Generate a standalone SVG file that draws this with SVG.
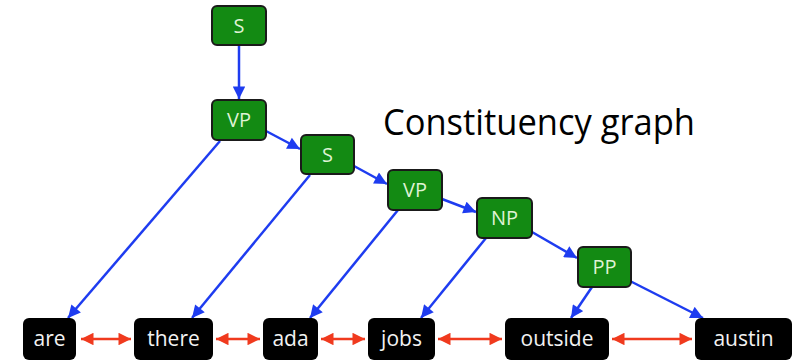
<svg xmlns="http://www.w3.org/2000/svg" width="797" height="362" viewBox="0 0 797 362">
<style>
.g rect{fill:#138a13;stroke:#1a1a1a;stroke-width:2}
.g text{fill:#dff2d4;font-family:"Open Sans","Liberation Sans",sans-serif;font-size:20px;text-anchor:middle}
.w rect{fill:#000}
.w text{fill:#f2f2f2;font-family:"Open Sans","Liberation Sans",sans-serif;font-size:21px;text-anchor:middle}
.b{stroke:#1e3cf0;stroke-width:2.5;fill:none;marker-end:url(#ab)}
.r{stroke:#f03a1e;stroke-width:2.5;fill:none;marker-start:url(#ar);marker-end:url(#ar)}
.title{font-family:"Open Sans","Liberation Sans",sans-serif;font-size:36px;fill:#000}
</style>
<defs>
<marker id="ab" viewBox="0 0 10 10" refX="10" refY="5" markerWidth="5.5" markerHeight="5" orient="auto" markerUnits="strokeWidth">
<path d="M0,0 L10,5 L0,10 z" fill="#1e3cf0"/>
</marker>
<marker id="ar" viewBox="0 0 10 10" refX="10" refY="5" markerWidth="5.5" markerHeight="5" orient="auto-start-reverse" markerUnits="strokeWidth">
<path d="M0,0 L10,5 L0,10 z" fill="#f03a1e"/>
</marker>
</defs>
<g id="connectors">
<line class="b" x1="239" y1="45" x2="239" y2="99"/>
<line class="b" x1="266" y1="131" x2="300" y2="149"/>
<line class="b" x1="354" y1="166" x2="387" y2="184"/>
<line class="b" x1="442" y1="199" x2="476" y2="212"/>
<line class="b" x1="532" y1="232" x2="577" y2="258"/>
<line class="b" x1="220" y1="141" x2="68" y2="318"/>
<line class="b" x1="310" y1="175" x2="192" y2="318"/>
<line class="b" x1="398" y1="210" x2="310" y2="318"/>
<line class="b" x1="486" y1="238" x2="421" y2="318"/>
<line class="b" x1="592" y1="287" x2="571" y2="318"/>
<line class="b" x1="630" y1="281" x2="703" y2="318"/>
<line class="r" x1="81" y1="339" x2="131" y2="339"/>
<line class="r" x1="216" y1="339" x2="260" y2="339"/>
<line class="r" x1="321" y1="339" x2="365" y2="339"/>
<line class="r" x1="438" y1="339" x2="502" y2="339"/>
<line class="r" x1="612" y1="339" x2="692" y2="339"/>
</g>
<g id="S1" class="g"><rect x="212" y="6" width="54" height="39" rx="5"/><text x="239" y="33">S</text></g>
<g id="VP1" class="g"><rect x="212" y="100" width="54" height="40" rx="5"/><text x="239" y="127">VP</text></g>
<g id="S2" class="g"><rect x="301" y="135" width="53" height="39" rx="5"/><text x="327.5" y="162">S</text></g>
<g id="VP2" class="g"><rect x="388" y="170" width="54" height="40" rx="5"/><text x="415" y="197">VP</text></g>
<g id="NP" class="g"><rect x="477" y="198" width="55" height="40" rx="5"/><text x="504.5" y="225">NP</text></g>
<g id="PP" class="g"><rect x="578" y="247" width="53" height="40" rx="5"/><text x="604.5" y="274">PP</text></g>
<g id="are" class="w"><rect x="23" y="318" width="53" height="42" rx="6"/><text x="49.5" y="346">are</text></g>
<g id="there" class="w"><rect x="134" y="318" width="79" height="42" rx="6"/><text x="173.5" y="346">there</text></g>
<g id="ada" class="w"><rect x="263" y="318" width="55" height="42" rx="6"/><text x="290.5" y="346">ada</text></g>
<g id="jobs" class="w"><rect x="368" y="318" width="67" height="42" rx="6"/><text x="401.5" y="346">jobs</text></g>
<g id="outside" class="w"><rect x="505" y="318" width="104" height="42" rx="6"/><text x="557" y="346">outside</text></g>
<g id="austin" class="w"><rect x="695" y="318" width="97" height="42" rx="6"/><text x="743.5" y="346">austin</text></g>
<text class="title" x="383" y="135" textLength="312" lengthAdjust="spacingAndGlyphs">Constituency graph</text>
</svg>
